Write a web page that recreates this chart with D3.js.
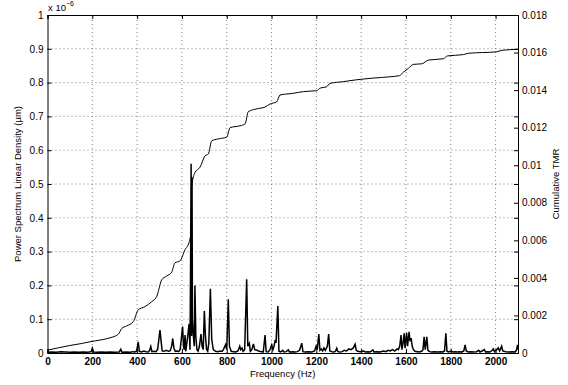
<!DOCTYPE html>
<html>
<head>
<meta charset="utf-8">
<script src="https://cdn.jsdelivr.net/npm/d3@7"></script>
<style>
  body { margin: 0; background: #fff; }
  svg text { font-family: "Liberation Sans", Arial, sans-serif; fill: #000; }
</style>
</head>
<body>
<div id="chart"></div>
<script>
// power spectrum (x 1e-6 um) vs frequency (Hz)
var specFreq = [0, 20, 40, 60, 80, 100, 120, 140, 160, 180, 195, 200, 205, 220, 240, 260, 280, 300, 320, 327, 332, 350, 370, 380, 390, 398, 405, 410, 420, 430, 440, 450, 456, 461, 466, 475, 485, 492, 497, 502, 507, 512, 520, 530, 540, 548, 554, 559, 564, 570, 578, 585, 592, 597, 603, 607, 610, 614, 617, 620, 626, 632, 636, 639, 641, 643, 645, 647, 650, 655, 658, 662, 667, 672, 678, 685, 690, 695, 700, 705, 710, 715, 720, 727, 733, 740, 750, 760, 770, 780, 785, 795, 800, 807, 812, 820, 830, 840, 850, 858, 862, 868, 873, 880, 889, 894, 901, 905, 912, 919, 925, 935, 945, 955, 963, 971, 976, 985, 993, 1001, 1006, 1011, 1016, 1020, 1028, 1033, 1040, 1050, 1055, 1065, 1075, 1080, 1095, 1105, 1115, 1125, 1135, 1140, 1150, 1165, 1180, 1192, 1199, 1204, 1211, 1216, 1222, 1228, 1234, 1240, 1249, 1255, 1260, 1270, 1280, 1286, 1291, 1296, 1305, 1315, 1325, 1335, 1345, 1355, 1365, 1373, 1378, 1385, 1395, 1410, 1420, 1430, 1440, 1452, 1457, 1470, 1485, 1500, 1510, 1520, 1530, 1540, 1550, 1560, 1566, 1572, 1578, 1582, 1587, 1592, 1596, 1603, 1607, 1614, 1618, 1623, 1628, 1633, 1640, 1650, 1660, 1670, 1676, 1681, 1686, 1693, 1698, 1705, 1715, 1725, 1740, 1755, 1765, 1772, 1778, 1783, 1790, 1800, 1810, 1820, 1830, 1840, 1850, 1858, 1864, 1869, 1878, 1890, 1900, 1915, 1925, 1930, 1940, 1950, 1955, 1965, 1975, 1985, 1990, 1995, 2005, 2012, 2018, 2027, 2032, 2045, 2060, 2075, 2088, 2094, 2098, 2100];
var specVal = [0.002, 0.003, 0.002, 0.004, 0.003, 0.002, 0.003, 0.002, 0.003, 0.002, 0.004, 0.014, 0.003, 0.002, 0.003, 0.002, 0.003, 0.002, 0.003, 0.011, 0.002, 0.003, 0.002, 0.004, 0.003, 0.006, 0.033, 0.005, 0.003, 0.006, 0.004, 0.003, 0.008, 0.019, 0.004, 0.005, 0.004, 0.012, 0.04, 0.068, 0.035, 0.006, 0.005, 0.008, 0.005, 0.007, 0.02, 0.043, 0.015, 0.005, 0.006, 0.004, 0.01, 0.04, 0.078, 0.02, 0.01, 0.053, 0.005, 0.02, 0.05, 0.086, 0.01, 0.3, 0.56, 0.05, 0.52, 0.1, 0.06, 0.02, 0.2, 0.05, 0.01, 0.005, 0.02, 0.056, 0.02, 0.01, 0.124, 0.05, 0.01, 0.005, 0.03, 0.19, 0.04, 0.01, 0.005, 0.004, 0.006, 0.005, 0.01, 0.025, 0.01, 0.159, 0.02, 0.005, 0.004, 0.003, 0.006, 0.02, 0.01, 0.015, 0.005, 0.01, 0.218, 0.02, 0.029, 0.005, 0.01, 0.027, 0.01, 0.008, 0.005, 0.004, 0.003, 0.053, 0.004, 0.003, 0.01, 0.024, 0.01, 0.02, 0.038, 0.03, 0.139, 0.005, 0.003, 0.008, 0.003, 0.004, 0.009, 0.003, 0.004, 0.003, 0.004, 0.008, 0.029, 0.004, 0.003, 0.004, 0.003, 0.006, 0.02, 0.01, 0.056, 0.008, 0.012, 0.006, 0.015, 0.008, 0.02, 0.056, 0.006, 0.004, 0.003, 0.006, 0.014, 0.004, 0.003, 0.004, 0.008, 0.006, 0.012, 0.01, 0.015, 0.026, 0.008, 0.005, 0.004, 0.006, 0.003, 0.004, 0.003, 0.009, 0.003, 0.004, 0.003, 0.006, 0.004, 0.008, 0.006, 0.01, 0.006, 0.012, 0.01, 0.02, 0.053, 0.01, 0.03, 0.058, 0.015, 0.06, 0.02, 0.063, 0.035, 0.044, 0.02, 0.01, 0.005, 0.004, 0.003, 0.005, 0.01, 0.048, 0.01, 0.048, 0.008, 0.004, 0.003, 0.004, 0.003, 0.004, 0.003, 0.006, 0.058, 0.005, 0.003, 0.006, 0.003, 0.004, 0.003, 0.004, 0.003, 0.006, 0.024, 0.006, 0.003, 0.004, 0.003, 0.004, 0.008, 0.003, 0.006, 0.01, 0.003, 0.004, 0.003, 0.008, 0.012, 0.004, 0.01, 0.015, 0.006, 0.02, 0.006, 0.004, 0.003, 0.004, 0.003, 0.01, 0.024, 0.01];

// cumulative TMR
var cumFreq = [0, 50, 100, 150, 190, 240, 279, 316, 331, 353, 383, 405, 435, 465, 487, 510, 532, 554, 569, 591, 614, 632, 640, 644, 658, 681, 703, 718, 733, 762, 800, 815, 859, 882, 896, 934, 971, 993, 1023, 1038, 1097, 1142, 1202, 1216, 1246, 1261, 1320, 1373, 1454, 1529, 1571, 1588, 1611, 1633, 1670, 1700, 1767, 1785, 1856, 1878, 2005, 2028, 2100];
var cumVal = [0.00015, 0.00028, 0.0004, 0.0005, 0.0006, 0.0007, 0.00081, 0.001, 0.0013, 0.00144, 0.00167, 0.0023, 0.00247, 0.00273, 0.003, 0.0039, 0.0041, 0.0043, 0.0048, 0.0049, 0.0055, 0.0059, 0.0064, 0.0089, 0.0096, 0.0099, 0.0105, 0.0106, 0.0113, 0.0114, 0.0115, 0.012, 0.0121, 0.0122, 0.01285, 0.013, 0.0131, 0.01326, 0.01338, 0.01374, 0.01383, 0.01392, 0.01397, 0.0141, 0.01418, 0.01436, 0.01445, 0.01454, 0.01464, 0.01471, 0.01477, 0.01495, 0.01516, 0.01537, 0.0154, 0.0156, 0.01567, 0.01582, 0.01589, 0.01596, 0.01604, 0.01612, 0.01617];

var xTicks = [0, 200, 400, 600, 800, 1000, 1200, 1400, 1600, 1800, 2000];
var yLeftTicks = [0, 0.1, 0.2, 0.3, 0.4, 0.5, 0.6, 0.7, 0.8, 0.9, 1];
var yRightTicks = [0, 0.002, 0.004, 0.006, 0.008, 0.01, 0.012, 0.014, 0.016, 0.018];

var W = 568, H = 385;
var margin = { top: 15, right: 50, bottom: 32, left: 47.5 };

var svg = d3.select('#chart').append('svg')
    .attr('width', W)
    .attr('height', H);
svg.append('rect').attr('width', W).attr('height', H).attr('fill', '#fff');

var x = d3.scaleLinear().domain([0, 2100]).range([margin.left, W - margin.right]);
var yL = d3.scaleLinear().domain([0, 1]).range([H - margin.bottom, margin.top]);
var yR = d3.scaleLinear().domain([0, 0.018]).range([H - margin.bottom, margin.top]);

// grid
var grid = svg.append('g').attr('stroke', '#000').attr('stroke-width', 0.7)
    .attr('stroke-dasharray', '1,3').attr('opacity', 0.7);
grid.selectAll('.gx').data(xTicks.slice(1))
    .enter().append('line')
    .attr('x1', d => x(d)).attr('x2', d => x(d))
    .attr('y1', yL(0)).attr('y2', yL(1));
grid.selectAll('.gy').data(yLeftTicks.slice(1, -1))
    .enter().append('line')
    .attr('x1', x(0)).attr('x2', x(2100))
    .attr('y1', d => yL(d)).attr('y2', d => yL(d));

// lines
var spec = specFreq.map((f, i) => ({ f: f, v: specVal[i] }));
var cum = cumFreq.map((f, i) => ({ f: f, v: cumVal[i] }));

svg.append('path')
    .datum(spec)
    .attr('fill', 'none')
    .attr('stroke', '#000')
    .attr('stroke-width', 1.5)
    .attr('stroke-linejoin', 'miter')
    .attr('d', d3.line().x(d => x(d.f)).y(d => yL(d.v)));

svg.append('path')
    .datum(cum)
    .attr('fill', 'none')
    .attr('stroke', '#000')
    .attr('stroke-width', 1)
    .attr('d', d3.line().curve(d3.curveMonotoneX).x(d => x(d.f)).y(d => yR(d.v)));

// axes (ticks point inward)
var fmt = d3.format('');
var gx = svg.append('g')
    .attr('transform', 'translate(0,' + yL(0) + ')')
    .call(d3.axisBottom(x).tickValues(xTicks).tickSize(-4).tickPadding(5).tickFormat(fmt));
gx.selectAll('text').attr('font-size', 10).attr('font-weight', 'bold');

var gxTop = svg.append('g')
    .attr('transform', 'translate(0,' + yL(1) + ')')
    .call(d3.axisTop(x).tickValues(xTicks).tickSize(-4).tickFormat(''));

var gyl = svg.append('g')
    .attr('transform', 'translate(' + x(0) + ',0)')
    .call(d3.axisLeft(yL).tickValues(yLeftTicks).tickSize(-4).tickPadding(4).tickFormat(d3.format('')));
gyl.selectAll('text').attr('font-size', 10);

var gylMirror = svg.append('g')
    .attr('transform', 'translate(' + x(2100) + ',0)')
    .call(d3.axisRight(yL).tickValues(yLeftTicks).tickSize(-4).tickFormat(''));

var gyr = svg.append('g')
    .attr('transform', 'translate(' + x(2100) + ',0)')
    .call(d3.axisRight(yR).tickValues(yRightTicks).tickSize(-4).tickPadding(4).tickFormat(d3.format('')));
gyr.selectAll('text').attr('font-size', 10);

[gx, gxTop, gyl, gylMirror, gyr].forEach(function(g) {
    g.select('.domain').attr('stroke', '#000').attr('stroke-width', 1);
    g.selectAll('.tick line').attr('stroke', '#000');
});

// labels
svg.append('text')
    .attr('x', (x(0) + x(2100)) / 2)
    .attr('y', 376.5)
    .attr('text-anchor', 'middle')
    .attr('font-size', 9.5)
    .text('Frequency (Hz)');

svg.append('text')
    .attr('transform', 'translate(21,184) rotate(-90)')
    .attr('text-anchor', 'middle')
    .attr('font-size', 9.5)
    .text('Power Spectrum Linear Density (\u00b5m)');

svg.append('text')
    .attr('transform', 'translate(559,184) rotate(-90)')
    .attr('text-anchor', 'middle')
    .attr('font-size', 9.5)
    .text('Cumulative TMR');

var mult = svg.append('text')
    .attr('x', 48)
    .attr('y', 11)
    .attr('font-size', 9.5);
mult.append('tspan').text('x 10');
mult.append('tspan').attr('dy', -5).attr('font-size', 7).text('\u22126');
</script>
</body>
</html>
